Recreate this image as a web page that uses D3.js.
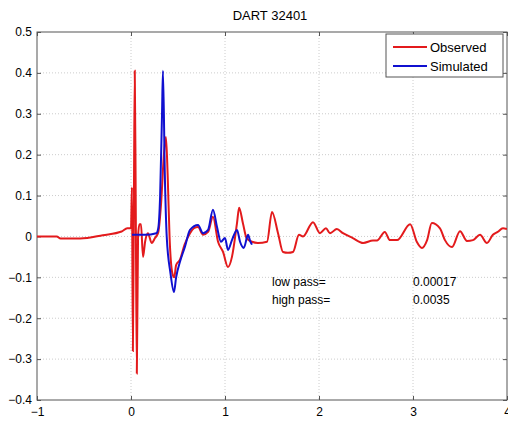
<!DOCTYPE html>
<html><head><meta charset="utf-8">
<script src="https://d3js.org/d3.v7.min.js"></script>
<style>body{margin:0;background:#fff}svg{display:block}text{font-family:"Liberation Sans",Arial,sans-serif;fill:#000}</style>
</head><body><div id="c"></div>
<script>
const title = "DART 32401";
const xTicks = [-1,0,1,2,3,4];
const yTicks = [-0.4,-0.3,-0.2,-0.1,0,0.1,0.2,0.3,0.4,0.5];
const seriesNames = ["Observed","Simulated"];
const seriesColors = ["#e31a1c","#1010d0"];
const observedX = [-1.0,-0.79,-0.75,-0.54,-0.3,-0.1,-0.04,0.0,0.01,0.02,0.03,0.04,0.05,0.062,0.075,0.09,0.106,0.128,0.15,0.18,0.22,0.255,0.29,0.32,0.35,0.372,0.39,0.41,0.44,0.46,0.48,0.521,0.57,0.628,0.67,0.713,0.766,0.82,0.872,0.926,0.979,1.032,1.074,1.128,1.15,1.19,1.23,1.287,1.35,1.447,1.5,1.564,1.617,1.67,1.723,1.787,1.83,1.936,2.01,2.074,2.117,2.19,2.255,2.36,2.47,2.574,2.617,2.70,2.755,2.83,2.97,3.04,3.095,3.15,3.2,3.287,3.34,3.415,3.5,3.574,3.638,3.713,3.787,3.85,3.9,3.957,4.0];
const observedY = [0.0,0.0,-0.005,-0.005,0.003,0.012,0.02,0.02,0.12,-0.28,0.05,0.405,0.1,-0.335,0.0,0.03,0.03,-0.05,-0.013,0.008,-0.016,-0.004,0.01,0.08,0.2,0.243,0.15,0.0,-0.09,-0.1,-0.07,-0.057,-0.02,0.008,0.02,0.023,0.004,0.011,0.048,-0.013,-0.038,-0.075,-0.05,0.033,0.07,0.033,-0.004,-0.013,-0.016,-0.013,0.06,0.008,-0.038,-0.04,-0.038,0.004,0.0,0.035,0.008,0.02,0.008,0.018,0.008,-0.004,-0.016,-0.01,-0.01,0.011,-0.009,-0.009,0.03,-0.013,-0.028,-0.009,0.033,0.02,-0.009,-0.026,0.013,-0.011,-0.009,0.004,-0.016,0.004,0.011,0.02,0.018];
const simulatedX = [0.011,0.15,0.27,0.29,0.31,0.33,0.34,0.36,0.38,0.42,0.457,0.48,0.521,0.574,0.628,0.713,0.766,0.82,0.872,0.915,0.957,1.0,1.032,1.074,1.128,1.16,1.2,1.245,1.266,1.287];
const simulatedY = [0.004,0.004,0.008,0.02,0.1,0.3,0.405,0.15,0.0,-0.09,-0.136,-0.1,-0.062,-0.025,0.016,0.028,0.008,0.016,0.065,0.023,-0.013,-0.004,-0.033,-0.009,0.016,-0.013,-0.028,0.004,-0.01,-0.02];
const annoLabels = ["low pass=","high pass="];
const annoValues = ["0.00017","0.0035"];

const W=508,H=423, m={l:37,r:1,t:32,b:23};
const svg=d3.select("#c").append("svg").attr("width",W).attr("height",H);
const x=d3.scaleLinear().domain([-1,4]).range([m.l,W-m.r]);
const y=d3.scaleLinear().domain([-0.4,0.5]).range([H-m.b,m.t]);

// grid
const g=svg.append("g");
g.selectAll(".gx").data(xTicks.slice(1,-1)).join("line").attr("x1",d=>x(d)).attr("x2",d=>x(d)).attr("y1",y(0.5)).attr("y2",y(-0.4)).attr("stroke","#ccc").attr("stroke-dasharray","1,2");
g.selectAll(".gy").data(yTicks.slice(1,-1)).join("line").attr("y1",d=>y(d)).attr("y2",d=>y(d)).attr("x1",x(-1)).attr("x2",x(4)).attr("stroke","#ccc").attr("stroke-dasharray","1,2");

// box
svg.append("rect").attr("x",x(-1)).attr("y",y(0.5)).attr("width",x(4)-x(-1)).attr("height",y(-0.4)-y(0.5)).attr("fill","none").attr("stroke","#555").attr("stroke-width",1);

// axes (inward ticks)
const xa=svg.append("g").attr("transform",`translate(0,${y(-0.4)})`).call(d3.axisBottom(x).tickValues(xTicks).tickSize(-4).tickPadding(7).tickFormat(d3.format("d")));
const ya=svg.append("g").attr("transform",`translate(${x(-1)},0)`).call(d3.axisLeft(y).tickValues(yTicks).tickSize(-4).tickPadding(5).tickFormat(d=>d===0?"0":d3.format(".1f")(d)));
[xa,ya].forEach(a=>{a.select(".domain").remove();a.selectAll("line").attr("stroke","#555");a.selectAll("text").style("font-size","12px").attr("fill","#000");});
const xt=svg.append("g").attr("transform",`translate(0,${y(0.5)})`).call(d3.axisTop(x).tickValues(xTicks).tickSize(-4).tickFormat(""));
xt.select(".domain").remove(); xt.selectAll("line").attr("stroke","#555");
const yr=svg.append("g").attr("transform",`translate(${x(4)},0)`).call(d3.axisRight(y).tickValues(yTicks).tickSize(-4).tickFormat(""));
yr.select(".domain").remove(); yr.selectAll("line").attr("stroke","#555");

// lines
const line=d3.line().x(d=>x(d[0])).y(d=>y(d[1])).curve(d3.curveMonotoneX);
const obs=observedX.map((v,i)=>[v,observedY[i]]);
const sim=simulatedX.map((v,i)=>[v,simulatedY[i]]);
const clip=svg.append("clipPath").attr("id","cp").append("rect").attr("x",x(-1)).attr("y",y(0.5)).attr("width",x(4)-x(-1)).attr("height",y(-0.4)-y(0.5));
const pl=svg.append("g").attr("clip-path","url(#cp)");
pl.append("path").datum(obs).attr("d",line).attr("fill","none").attr("stroke",seriesColors[0]).attr("stroke-width",2);
pl.append("path").datum(sim).attr("d",line).attr("fill","none").attr("stroke",seriesColors[1]).attr("stroke-width",2);

// title
svg.append("text").attr("x",270).attr("y",20).attr("text-anchor","middle").style("font-size","13px").text(title);

// annotations
annoLabels.forEach((t,i)=>{
  svg.append("text").attr("x",x(1.5)).attr("y",y(-0.1)-0+ (i*18)+9).style("font-size","12px").text(t);
  svg.append("text").attr("x",x(3)).attr("y",y(-0.1)+(i*18)+9).style("font-size","12px").text(annoValues[i]);
});

// legend
const lg=svg.append("g");
lg.append("rect").attr("x",386).attr("y",34).attr("width",117).attr("height",43).attr("fill","#fff").attr("stroke","#555");
seriesNames.forEach((n,i)=>{
  const yy=47+i*19;
  lg.append("line").attr("x1",393).attr("x2",427).attr("y1",yy).attr("y2",yy).attr("stroke",seriesColors[i]).attr("stroke-width",2);
  lg.append("text").attr("x",430).attr("y",yy+5).style("font-size","13px").text(n);
});
</script></body></html>
